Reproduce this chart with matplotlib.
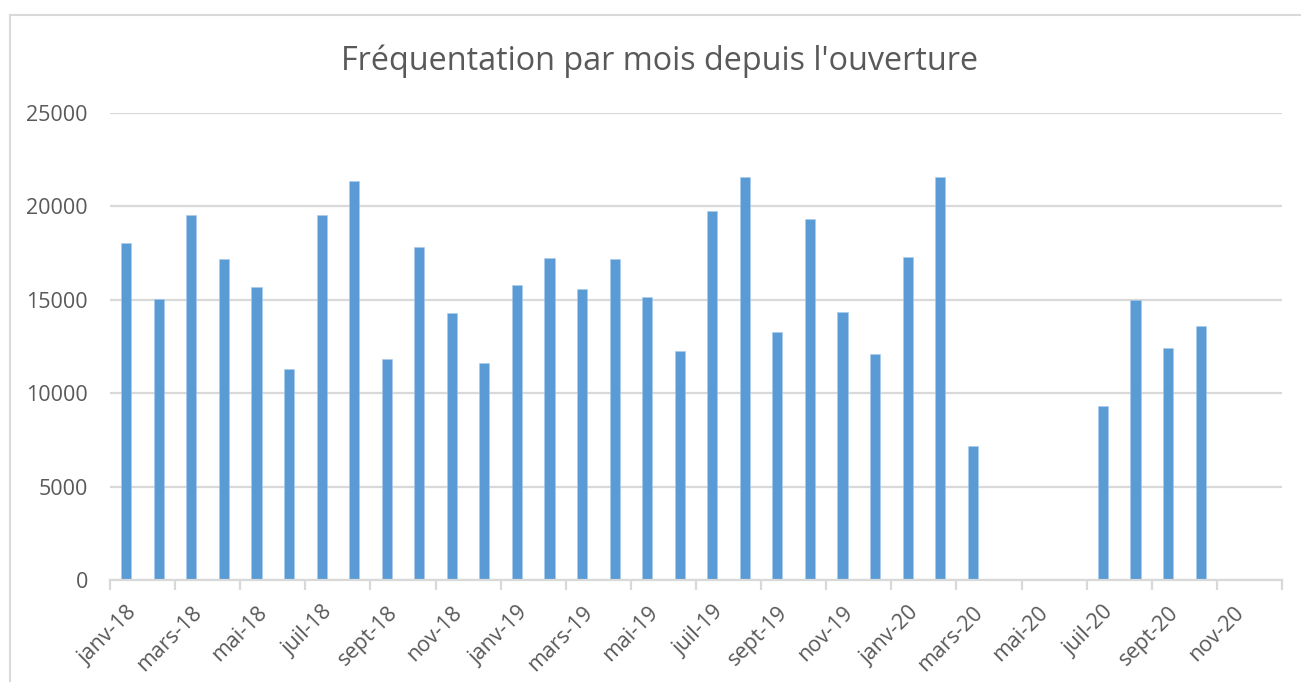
import matplotlib
matplotlib.use('Agg')
import matplotlib.pyplot as plt
import numpy as np
from matplotlib.lines import Line2D

# monthly attendance, janv-18 .. déc-20
months = ['janv-18', 'févr-18', 'mars-18', 'avr-18', 'mai-18', 'juin-18',
          'juil-18', 'août-18', 'sept-18', 'oct-18', 'nov-18', 'déc-18',
          'janv-19', 'févr-19', 'mars-19', 'avr-19', 'mai-19', 'juin-19',
          'juil-19', 'août-19', 'sept-19', 'oct-19', 'nov-19', 'déc-19',
          'janv-20', 'févr-20', 'mars-20', 'avr-20', 'mai-20', 'juin-20',
          'juil-20', 'août-20', 'sept-20', 'oct-20', 'nov-20', 'déc-20']
visits = [18050, 15060, 19540, 17170, 15700, 11280,
          19540, 21340, 11810, 17830, 14280, 11630,
          15790, 17260, 15600, 17170, 15170, 12240,
          19750, 21590, 13260, 19340, 14330, 12100,
          17270, 21590, 7170, 0, 0, 0,
          9310, 14990, 12420, 13600, 0, 0]
y_ticks = [0, 5000, 10000, 15000, 20000, 25000]

grey_txt = '#595959'
grid_col = '#D9D9D9'
bar_col = '#5B9BD5'

plt.rcParams['font.family'] = ['Open Sans', 'DejaVu Sans']

fig = plt.figure(figsize=(13.01, 6.82), dpi=100)
ax = fig.add_axes([110 / 1301, 1 - 580 / 682, (1282 - 110) / 1301, (580 - 113) / 682])

x = np.arange(len(months))
ax.bar(x, visits, width=0.31, color=bar_col, edgecolor='#A9CBEA', linewidth=0.4, zorder=3)

ax.set_xlim(-0.5, len(months) - 0.5)
ax.set_ylim(0, 25000)
ax.set_yticks(y_ticks)
ax.set_yticklabels([str(v) for v in y_ticks], fontsize=15.5, color=grey_txt)
ax.tick_params(axis='y', length=0, pad=16)
ax.grid(axis='y', color=grid_col, linewidth=1.6, zorder=0)

# category ticks every two months on boundaries, labels at category centre
ax.set_xticks(np.arange(-0.5, len(months), 2))
ax.set_xticklabels([])
ax.tick_params(axis='x', which='major', length=7, width=1.6, color=grid_col)
ax.set_xticks(x[::2], minor=True)
ax.set_xticklabels(months[::2], minor=True, rotation=45, ha='right', va='top',
                   rotation_mode='anchor', fontsize=15.5, color=grey_txt)
ax.tick_params(axis='x', which='minor', length=0, pad=16)

for side in ['top', 'right', 'left']:
    ax.spines[side].set_visible(False)
ax.spines['bottom'].set_color(grid_col)
ax.spines['bottom'].set_linewidth(1.6)
ax.spines['bottom'].set_zorder(4)

fig.text(0.507, 1 - 61 / 682, "Fréquentation par mois depuis l'ouverture",
         ha='center', va='center', fontsize=23.3, color=grey_txt)

# outer chart border (top and left visible)
fig.add_artist(Line2D([10 / 1301, 1], [1 - 15 / 682, 1 - 15 / 682],
                      color=grid_col, linewidth=1.5, transform=fig.transFigure))
fig.add_artist(Line2D([10 / 1301, 10 / 1301], [0, 1 - 15 / 682],
                      color=grid_col, linewidth=1.5, transform=fig.transFigure))

fig.savefig('out.png', dpi=100, facecolor='white')
